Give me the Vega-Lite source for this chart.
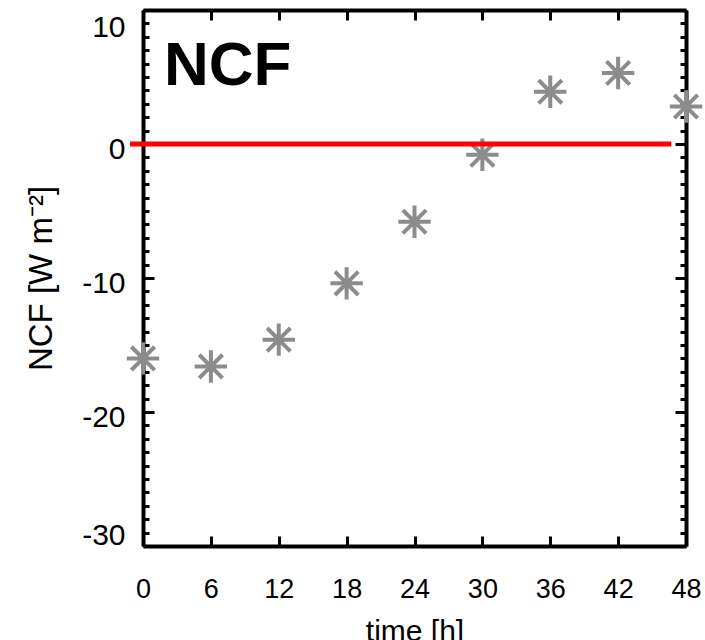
{
  "$schema": "https://vega.github.io/schema/vega-lite/v6.json",
  "autosize": "none",
  "width": 543,
  "height": 536,
  "padding": {"left": 143, "top": 10, "right": 19, "bottom": 94},
  "background": "white",
  "config": {
    "view": {"stroke": null},
    "axis": {
      "labelFont": "Liberation Sans",
      "titleFont": "Liberation Sans",
      "labelColor": "black",
      "titleColor": "black",
      "titleFontWeight": "normal",
      "domainColor": "black",
      "domainWidth": 4,
      "tickColor": "black",
      "tickWidth": 3,
      "grid": false,
      "labelFlush": false,
      "labelOverlap": false
    }
  },
  "resolve": {"axis": {"x": "independent", "y": "independent"}},
  "layer": [
    {
      "data": {
        "values": [
          {"time": 0, "ncf": -16.0},
          {"time": 6, "ncf": -16.6},
          {"time": 12, "ncf": -14.6},
          {"time": 18, "ncf": -10.4},
          {"time": 24, "ncf": -5.8},
          {"time": 30, "ncf": -0.8},
          {"time": 36, "ncf": 3.9},
          {"time": 42, "ncf": 5.3},
          {"time": 48, "ncf": 2.8}
        ]
      },
      "mark": {
        "type": "point",
        "shape": "M-1,0L1,0M0,-1L0,1M-0.72,-0.72L0.72,0.72M-0.72,0.72L0.72,-0.72",
        "filled": false,
        "stroke": "#8c8c8e",
        "strokeWidth": 4,
        "size": 1050,
        "opacity": 1,
        "clip": false
      },
      "encoding": {
        "x": {
          "field": "time",
          "type": "quantitative",
          "scale": {"domain": [0, 48], "nice": false, "zero": false},
          "axis": {
            "orient": "bottom",
            "title": "time [h]",
            "titleFontSize": 30,
            "titlePadding": 14,
            "values": [0, 6, 12, 18, 24, 30, 36, 42, 48],
            "labelFontSize": 27,
            "tickSize": -10,
            "labelPadding": 40
          }
        },
        "y": {
          "field": "ncf",
          "type": "quantitative",
          "scale": {"domain": [-30, 10], "nice": false, "zero": false},
          "axis": {
            "orient": "left",
            "title": "NCF [W m⁻²]",
            "titleFontSize": 33,
            "titlePadding": 23,
            "values": [-30, -29, -28, -27, -26, -25, -24, -23, -22, -21, -20, -19, -18, -17, -16, -15, -14, -13, -12, -11, -10, -9, -8, -7, -6, -5, -4, -3, -2, -1, 0, 1, 2, 3, 4, 5, 6, 7, 8, 9, 10],
            "labelExpr": "datum.value % 10 === 0 ? '' + datum.value : ''",
            "labelFontSize": 30,
            "labelOffset": {"condition": [{"test": "datum.value === 10", "value": 17}, {"test": "datum.value === -30", "value": -11}], "value": 5},
            "tickSize": {"condition": {"test": "datum.value % 10 === 0", "value": -11}, "value": -6},
            "labelPadding": 29
          }
        }
      }
    },
    {
      "data": {"values": [{"x1": -1.15, "x2": 46.7, "y": 0}]},
      "mark": {"type": "rule", "color": "#ff0000", "strokeWidth": 5, "clip": false},
      "encoding": {
        "x": {
          "field": "x1",
          "type": "quantitative",
          "axis": {
            "orient": "top",
            "title": null,
            "labels": false,
            "values": [0, 6, 12, 18, 24, 30, 36, 42, 48],
            "tickSize": -10
          }
        },
        "x2": {"field": "x2"},
        "y": {
          "field": "y",
          "type": "quantitative",
          "axis": {
            "orient": "right",
            "title": null,
            "labels": false,
            "values": [-30, -29, -28, -27, -26, -25, -24, -23, -22, -21, -20, -19, -18, -17, -16, -15, -14, -13, -12, -11, -10, -9, -8, -7, -6, -5, -4, -3, -2, -1, 0, 1, 2, 3, 4, 5, 6, 7, 8, 9, 10],
            "tickSize": {"condition": {"test": "datum.value % 10 === 0", "value": -11}, "value": -6}
          }
        }
      }
    },
    {
      "data": {"values": [{"label": "NCF"}]},
      "mark": {
        "type": "text",
        "font": "Liberation Sans",
        "fontSize": 62,
        "fontWeight": "bold",
        "color": "black",
        "align": "left",
        "baseline": "alphabetic",
        "dx": 21,
        "dy": 75
      },
      "encoding": {
        "x": {"datum": 0, "type": "quantitative", "axis": null},
        "y": {"datum": 10, "type": "quantitative", "axis": null},
        "text": {"field": "label"}
      }
    }
  ]
}
